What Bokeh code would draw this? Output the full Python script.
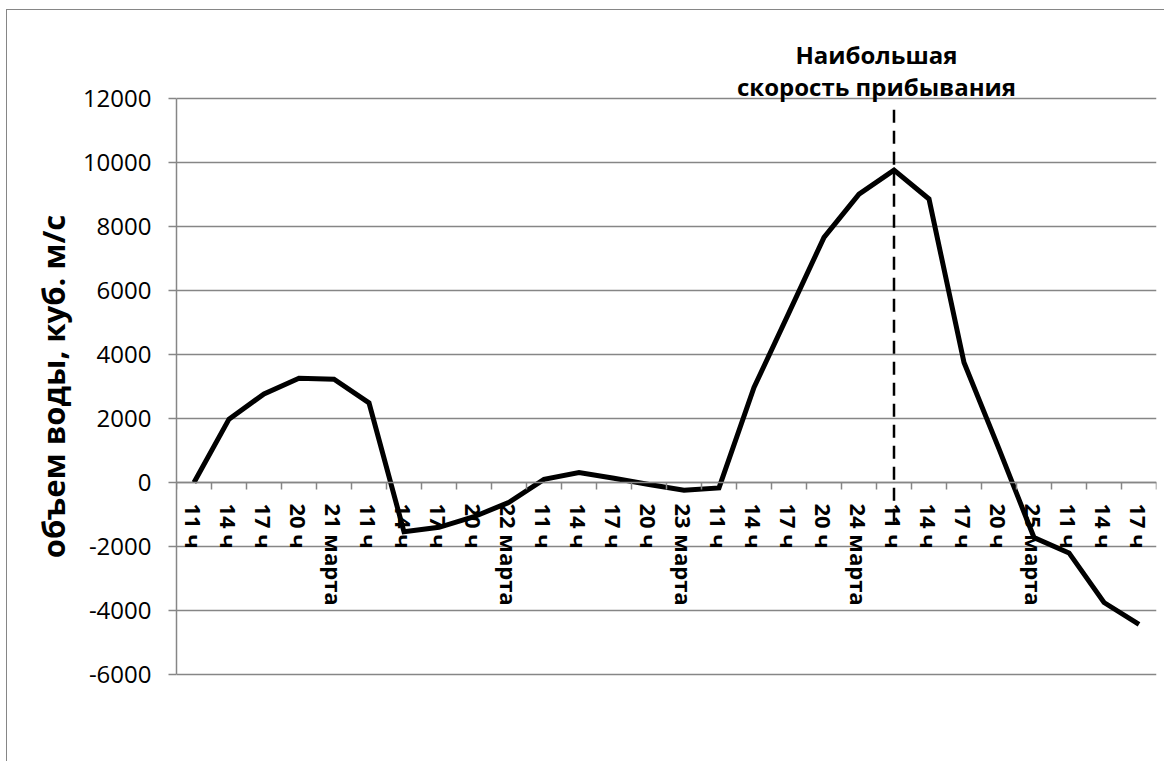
import numpy as np
from bokeh.plotting import figure
from bokeh.models import Range1d, FixedTicker, PrintfTickFormatter
from bokeh.core.properties import value
from bokeh.embed import file_html
from bokeh.resources import INLINE

# ---------------- data ----------------
categories = ["11 ч", "14 ч", "17 ч", "20 ч", "21 марта",
              "11 ч", "14 ч", "17 ч", "20 ч", "22 марта",
              "11 ч", "14 ч", "17 ч", "20 ч", "23 марта",
              "11 ч", "14 ч", "17 ч", "20 ч", "24 марта",
              "11 ч", "14 ч", "17 ч", "20 ч", "25 марта",
              "11 ч", "14 ч", "17 ч"]
volume = [0, 1980, 2770, 3260, 3230, 2490, -1540, -1400, -1070, -620,
          100, 310, 130, -60, -240, -170, 2970, 5310, 7660, 9010,
          9760, 8860, 3750, 1050, -1720, -2200, -3750, -4430]
y_ticks = [-6000, -4000, -2000, 0, 2000, 4000, 6000, 8000, 10000, 12000]
y_title = "объем воды, куб. м/с"
annotation_lines = ["Наибольшая", "скорость прибывания"]
marker_extent = [11650, -1300]   # vertical extent of the dashed marker (data units)

# ---------------- layout / styling ----------------
FONT = "Open Sans"
GRAY = "#868686"
y_lo, y_hi = -6000, 12000
GRID_PX = 576.0                       # pixel height of the -6000..12000 band
PAD_PX = 83.0                         # empty frame space above 12000 and below -6000
W, H = 1158, 752
MB_LEFT, MB_RIGHT, MB_TOP, MB_BOTTOM = 169, 9, 5, 5
px_per_unit = GRID_PX / (y_hi - y_lo)
frame_lo = y_lo - PAD_PX / px_per_unit
frame_hi = y_hi + PAD_PX / px_per_unit

xs = list(range(len(categories)))

p = figure(width=W, height=H,
           x_range=Range1d(-0.5, len(categories) - 0.5),
           y_range=Range1d(frame_lo, frame_hi),
           output_backend="svg", toolbar_location=None,
           min_border_left=MB_LEFT, min_border_right=MB_RIGHT,
           min_border_top=MB_TOP, min_border_bottom=MB_BOTTOM,
           background_fill_color="white", border_fill_color="white")
p.styles = {"border-left": "1px solid " + GRAY, "border-top": "1px solid " + GRAY,
            "margin-top": "9px", "margin-left": "6px"}
p.outline_line_color = None

# x axis crossing at 0
xa = p.xaxis[0]
xa.fixed_location = 0
xa.ticker = FixedTicker(ticks=xs, minor_ticks=[i - 0.5 for i in range(len(categories) + 1)])
xa.major_label_overrides = {i: c for i, c in enumerate(categories)}
xa.major_label_orientation = "vertical"
xa.major_label_text_font = FONT
xa.major_label_text_font_size = "22px"
xa.major_label_text_font_style = "bold"
xa.major_label_text_color = "black"
xa.major_label_standoff = 14
xa.major_tick_out = 0
xa.major_tick_in = 0
xa.minor_tick_out = 7
xa.minor_tick_in = 0
xa.minor_tick_line_color = GRAY
xa.minor_tick_line_width = 1.5
xa.axis_line_color = GRAY
xa.axis_line_width = 1.5

# y axis
ya = p.yaxis[0]
ya.bounds = (y_lo, y_hi)
ya.ticker = FixedTicker(ticks=y_ticks)
ya.formatter = PrintfTickFormatter(format="%d")
ya.major_label_text_font = FONT
ya.major_label_text_font_size = "24px"
ya.major_label_text_color = "black"
ya.major_label_standoff = 17
ya.major_tick_out = 8
ya.major_tick_in = 0
ya.minor_tick_out = 0
ya.minor_tick_in = 0
ya.major_tick_line_color = GRAY
ya.major_tick_line_width = 1.5
ya.axis_line_color = GRAY
ya.axis_line_width = 1.5
ya.axis_label = y_title
ya.axis_label_text_font = FONT
ya.axis_label_text_font_size = "31px"
ya.axis_label_text_font_style = "bold"
ya.axis_label_text_color = "black"
ya.axis_label_standoff = 6

p.xgrid.visible = False
p.ygrid.ticker = FixedTicker(ticks=y_ticks)
p.ygrid.grid_line_color = GRAY
p.ygrid.grid_line_width = 1.3

# data line
p.line(xs, volume, line_color="black", line_width=5, line_join="miter")

# dashed marker at the maximum
peak = int(np.argmax(volume))
p.line([peak, peak], marker_extent, line_color="black", line_width=2.5, line_dash="13 8")

# annotation text (two lines above the grid)
text_y = [y_hi + 44 / px_per_unit, y_hi + 12 / px_per_unit]
p.text(x=[peak - 0.5] * 2, y=text_y, text=annotation_lines,
       text_align="center", text_baseline="alphabetic",
       text_font=value(FONT), text_font_size="24px", text_font_style="bold",
       text_color="black")

open("out.html", "w").write(file_html(p, INLINE))
